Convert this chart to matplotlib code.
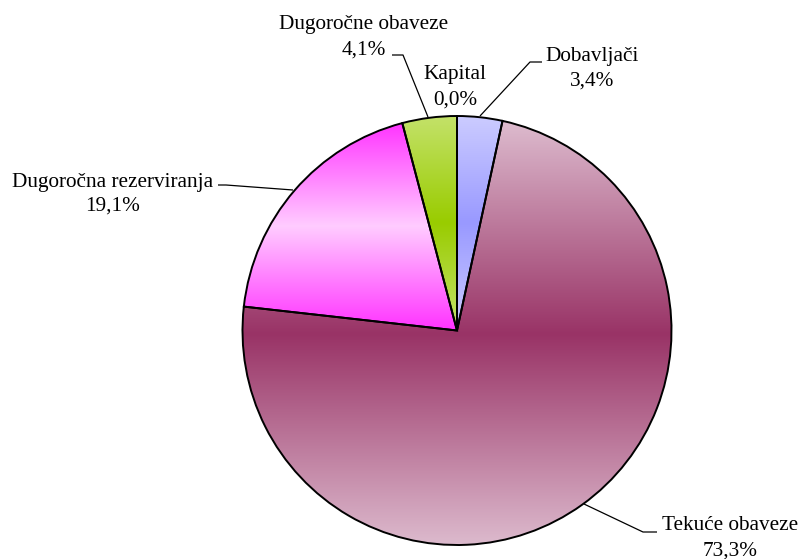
import numpy as np
import matplotlib
matplotlib.use("Agg")
import matplotlib.pyplot as plt
from matplotlib.colors import to_rgb

# ---- data ----
categories = ["Dobavljači", "Tekuće obaveze", "Dugoročna rezerviranja", "Dugoročne obaveze", "Kapital"]
values = [3.4, 73.3, 19.1, 4.1, 0.0]
pct_labels = ["3,4%", "73,3%", "19,1%", "4,1%", "0,0%"]

# gradient colours: (edge colour, middle colour)
grad_colors = [("#CCCCFF", "#9999FF"),
               ("#DDBBCE", "#993366"),
               ("#FF33FF", "#FFCCFF"),
               ("#C4E26A", "#99CC00"),
               ("#FFFFFF", "#FFFFFF")]

plt.rcParams["font.family"] = ["Liberation Serif", "DejaVu Serif"]

W, H = 803, 559
fig = plt.figure(figsize=(W / 100, H / 100), dpi=100)
ax = fig.add_axes([0, 0, 1, 1])

def Y(y):
    return H - y

cx, cy, R = 457, Y(330.5), 214.5
wedges, _ = ax.pie(values, startangle=90, counterclock=False, center=(cx, cy),
                   radius=R, frame=True,
                   wedgeprops=dict(edgecolor="black", linewidth=1.4))

for w, (ce, cm), v in zip(wedges, grad_colors, values):
    if v <= 0:
        w.set_facecolor("none")
        w.set_zorder(3)
        continue
    verts = w.get_path().vertices
    xs, ys = verts[:, 0], verts[:, 1]
    x0, x1 = xs.min(), xs.max()
    y0, y1 = ys.min(), ys.max()
    n = 256
    t = np.linspace(0, 1, n)
    f = 1 - np.abs(2 * t - 1)  # 0 at ends, 1 in middle
    a, b = np.array(to_rgb(ce)), np.array(to_rgb(cm))
    grad = (a[None, :] * (1 - f[:, None]) + b[None, :] * f[:, None])[:, None, :]
    im = ax.imshow(grad, extent=[x0, x1, y0, y1], origin="lower", aspect="auto",
                   interpolation="bilinear", zorder=1)
    im.set_clip_path(w)
    w.set_facecolor("none")
    w.set_zorder(3)

ax.set_xlim(0, W)
ax.set_ylim(0, H)
ax.set_aspect("auto")
ax.axis("off")

font = dict(family=["Liberation Serif", "DejaVu Serif"], fontsize=15.3,
            ha="center", va="center")

# (x centre, y of line 1, y of line 2) in pixels from top-left
lab_pos = {
    "Dobavljači": (592, 57, 81),
    "Tekuće obaveze": (730, 526, 551),
    "Dugoročna rezerviranja": (113, 183, 206),
    "Dugoročne obaveze": (364, 25, 50),
    "Kapital": (455, 75, 100),
}
leaders = {
    "Dobavljači": [(542, 62), (530, 62), (480, 116)],
    "Tekuće obaveze": [(657, 532), (643, 532), (584, 504)],
    "Dugoročna rezerviranja": [(218, 185), (226, 185), (293, 190)],
    "Dugoročne obaveze": [(392, 55), (403, 55), (428, 117)],
}
for cat, p in zip(categories, pct_labels):
    x, y1, y2 = lab_pos[cat]
    ax.text(x, Y(y1), cat, **font)
    ax.text(x, Y(y2), p, **font)
    if cat in leaders:
        pts = leaders[cat]
        ax.plot([q[0] for q in pts], [Y(q[1]) for q in pts], color="black",
                lw=0.9, zorder=4, solid_capstyle="butt")

fig.savefig("out.png", dpi=100)
